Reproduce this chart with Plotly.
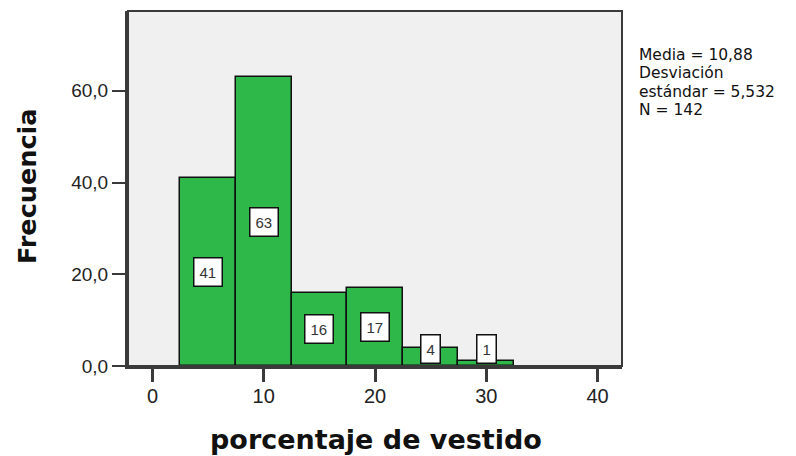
import plotly.graph_objects as go

bin_centers = [5, 10, 15, 20, 25, 30]
counts = [41, 63, 16, 17, 4, 1]
bin_width = 5
x_tick_vals = [0, 10, 20, 30, 40]
y_tick_vals = [0, 20, 40, 60]
y_tick_text = ["0,0", "20,0", "40,0", "60,0"]
stats_lines = ["Media = 10,88", "Desviación", "estándar = 5,532", "N = 142"]

GREEN = "rgb(45,184,73)"
AXIS = "#3a3a3a"

fig = go.Figure()
fig.add_trace(go.Bar(
    x=bin_centers, y=counts, width=[bin_width] * len(counts),
    marker=dict(color=GREEN, line=dict(color="#111111", width=1.5)),
    hoverinfo="skip", showlegend=False,
))

annotations = []
for xc, v in zip(bin_centers, counts):
    annotations.append(dict(
        x=xc, y=max(v / 2, 3.7), xref="x", yref="y", text=str(v), showarrow=False,
        font=dict(family="Liberation Sans", size=15, color="#333333"),
        bgcolor="white", bordercolor="#111111", borderwidth=1.5, borderpad=5,
    ))

annotations.append(dict(
    x=-0.2045, y=0.507, xref="paper", yref="paper", text="<b>Frecuencia</b>",
    textangle=-90, showarrow=False, xanchor="center", yanchor="middle",
    font=dict(family="DejaVu Sans", size=25.5, color="#111111"),
))
annotations.append(dict(
    x=0.503, y=-0.208, xref="paper", yref="paper", text="<b>porcentaje de vestido</b>",
    showarrow=False, xanchor="center", yanchor="middle",
    font=dict(family="DejaVu Sans", size=27, color="#111111"),
))
stat_y = [0.876, 0.824, 0.772, 0.720]
for line, yy in zip(stats_lines, stat_y):
    annotations.append(dict(
        x=1.0304, y=yy, xref="paper", yref="paper", text=line, showarrow=False,
        xanchor="left", yanchor="middle",
        font=dict(family="DejaVu Sans", size=15.5, color="#111111"),
    ))

fig.update_layout(
    width=788, height=448,
    margin=dict(l=120, r=174, t=3, b=90),
    paper_bgcolor="white", plot_bgcolor="#f0f0f0",
    bargap=0,
    annotations=annotations,
    shapes=[dict(type="rect", xref="paper", yref="paper", x0=0, x1=1, y0=0, y1=1,
                 line=dict(color=AXIS, width=2), layer="above")],
    xaxis=dict(
        range=[-2.2, 42.2], tickvals=x_tick_vals, showgrid=False, zeroline=False,
        ticks="outside", ticklen=13, tickwidth=3, tickcolor=AXIS,
        showline=True, linecolor=AXIS, linewidth=3, ticklabelstandoff=-3,
        tickfont=dict(family="Liberation Sans", size=20, color="#222222"),
    ),
    yaxis=dict(
        range=[0, 77.4], tickvals=y_tick_vals, ticktext=y_tick_text, showgrid=False,
        zeroline=False, ticks="outside", ticklen=13, tickwidth=2, tickcolor=AXIS,
        showline=True, linecolor=AXIS, linewidth=3,
        tickfont=dict(family="Liberation Sans", size=19, color="#222222"),
    ),
)

fig.write_html("out.html")
